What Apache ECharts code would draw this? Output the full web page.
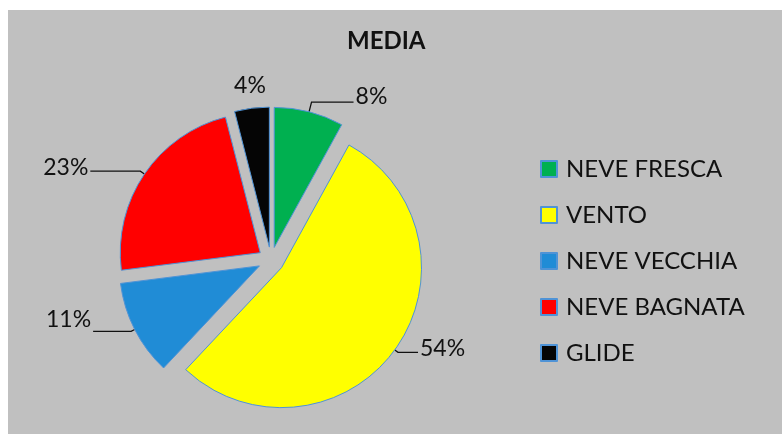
<!DOCTYPE html>
<html>
<head>
<meta charset="utf-8">
<script src="https://cdn.jsdelivr.net/npm/echarts@6/dist/echarts.min.js"></script>
<style>
  html, body { margin: 0; padding: 0; background: #ffffff; }
  #chart { position: absolute; left: 8px; top: 10px; width: 774px; height: 424px; }
</style>
</head>
<body>
<div id="chart"></div>
<script>
// Avalanche type shares (percent)
const categories = ['NEVE FRESCA', 'VENTO', 'NEVE VECCHIA', 'NEVE BAGNATA', 'GLIDE'];
const shares = [8, 54, 11, 23, 4];
const sliceColors = ['#00b050', '#ffff00', '#208cd6', '#ff0000', '#050505'];

// Leader line tuning per slice
const leaderStyle = {
  'NEVE FRESCA':  { length: 10, length2: 42, show: true },
  'VENTO':        { length: 4, length2: 20, show: true },
  'NEVE VECCHIA': { length: 4, length2: 38, show: true },
  'NEVE BAGNATA': { length: 5, length2: 50, show: true },
  'GLIDE':        { length: 23, length2: 0, show: false }
};
// Vertical lift of each label text above its leader end, by slice order
const labelLift = [-6, -4, -12, -4, 0];

const FONT = 'Lato, "Open Sans", sans-serif';

const pieData = categories.map((name, i) => ({
  name: name,
  value: shares[i],
  selected: true,
  itemStyle: { color: sliceColors[i] },
  labelLine: leaderStyle[name]
}));

const chart = echarts.init(document.getElementById('chart'), null, { renderer: 'canvas' });
chart.setOption({
  backgroundColor: '#c0c0c0',
  animation: false,
  title: {
    text: 'MEDIA',
    left: 339,
    top: 19,
    padding: 0,
    textStyle: { fontFamily: FONT, fontSize: 24, fontWeight: 'bold', color: '#111111' }
  },
  legend: {
    orient: 'vertical',
    left: 532,
    top: 147,
    padding: 0,
    icon: 'rect',
    itemWidth: 16,
    itemHeight: 16,
    itemGap: 22,
    selectedMode: false,
    textStyle: { fontFamily: FONT, fontSize: 24, lineHeight: 24, color: '#111111', padding: [0, 0, 0, 4] },
    data: categories
  },
  series: [{
    type: 'pie',
    center: [263, 250],
    radius: 140,
    startAngle: 90,
    clockwise: true,
    selectedMode: 'multiple',
    selectedOffset: 13,
    avoidLabelOverlap: false,
    emphasis: { disabled: true },
    itemStyle: { borderColor: '#4f93d6', borderWidth: 1 },
    label: {
      show: true,
      position: 'outside',
      formatter: '{c}%',
      fontFamily: FONT,
      fontSize: 23,
      color: '#111111',
      distanceToLabelLine: 2
    },
    labelLine: { lineStyle: { color: '#111111', width: 1.3 }, smooth: false },
    labelLayout: function (params) {
      const out = { dy: labelLift[params.dataIndex] };
      // the small top slice carries its label centred above it
      if (params.dataIndex === 4) {
        out.align = 'center';
        out.dx = 3;
      }
      return out;
    },
    data: pieData
  }]
});
</script>
</body>
</html>
